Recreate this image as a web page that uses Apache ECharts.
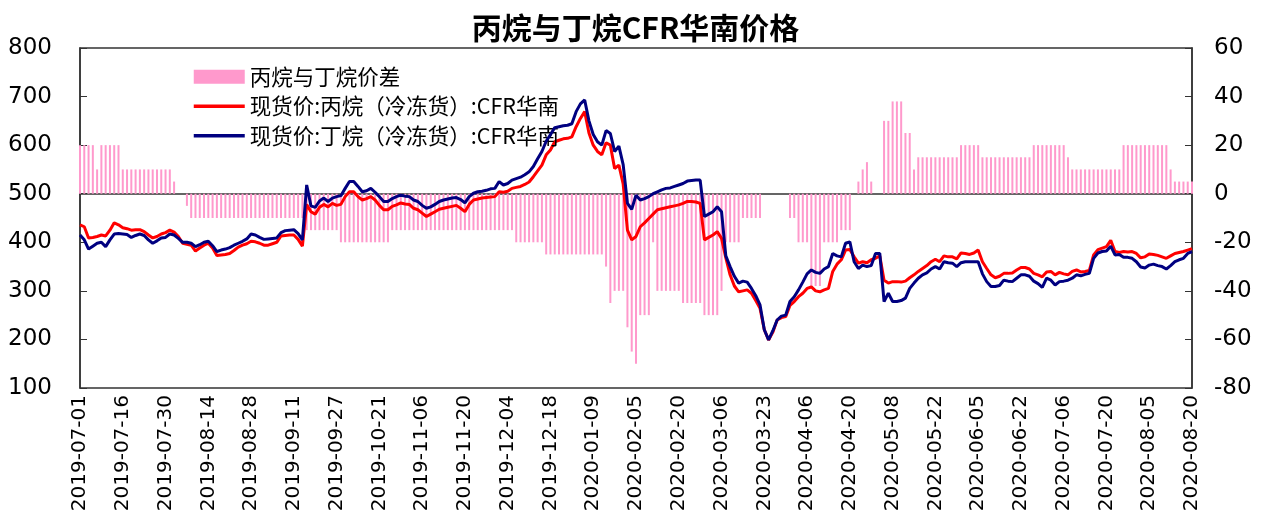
<!DOCTYPE html>
<html>
<head>
<meta charset="utf-8">
<script src="https://cdn.jsdelivr.net/npm/echarts@6/dist/echarts.min.js"></script>
<style>html,body{margin:0;padding:0;background:#fff;}#c{width:1271px;height:527px;}</style>
</head>
<body>
<div id="c"></div>
<script>
var tickLabels = ['2019-07-01','2019-07-16','2019-07-30','2019-08-14','2019-08-28','2019-09-11','2019-09-27','2019-10-21','2019-11-06','2019-11-20','2019-12-04','2019-12-18','2020-01-09','2020-02-05','2020-02-20','2020-03-06','2020-03-23','2020-04-06','2020-04-20','2020-05-08','2020-05-22','2020-06-05','2020-06-22','2020-07-06','2020-07-20','2020-08-05','2020-08-20'];

var propane = [
436,432,409,410,412,415,413,425,440,436,
430,428,425,426,426,422,415,409,412,417,
420,425,421,412,398,396,394,382,388,394,
398,388,373,374,375,377,383,390,394,397,
402,401,398,394,394,397,400,413,414,415,
415,406,392,478,463,458,472,478,473,480,
476,478,494,504,504,494,487,490,494,487,
476,467,467,474,477,481,479,478,470,467,
460,453,458,463,468,470,472,474,476,470,
463,478,487,489,491,492,493,494,504,503,
505,511,513,515,519,524,535,547,559,580,
590,607,610,613,614,617,638,655,669,625,
600,587,580,605,600,552,559,520,425,405,
412,432,440,449,458,467,469,471,473,475,
477,480,484,484,483,480,405,410,415,422,
408,368,333,310,298,300,302,295,280,264,
220,199,215,240,245,247,270,278,288,295,
305,308,300,298,302,305,340,355,364,384,
385,370,357,360,358,364,367,372,322,316,
319,319,318,320,327,333,340,346,352,360,
365,360,372,370,370,366,378,377,375,378,
384,360,346,333,327,330,336,336,337,343,
348,348,345,336,333,329,339,340,333,338,
335,333,340,343,339,340,342,374,385,388,
391,404,381,379,381,380,381,377,368,370,
376,375,373,370,367,372,377,379,381,384,
387];

var butane = [
415,405,386,392,398,400,391,405,417,418,
417,416,410,414,417,414,405,398,403,409,
410,417,415,408,400,400,398,391,395,400,
402,393,381,384,386,389,394,398,402,407,
417,415,410,406,407,408,409,420,424,425,
426,418,405,518,475,472,485,491,484,491,
494,496,511,525,525,515,504,506,511,503,
494,484,484,490,494,497,495,494,487,484,
476,470,473,478,484,487,489,491,492,488,
481,494,501,504,505,507,510,511,525,518,
521,528,531,534,539,545,556,572,587,608,
622,636,638,640,641,644,669,685,693,650,
622,607,600,630,624,587,598,560,480,468,
497,487,490,494,500,504,508,511,512,515,
518,521,526,527,528,528,453,458,463,473,
463,372,350,330,316,320,318,305,290,271,
220,199,218,240,248,250,278,288,302,318,
335,343,338,336,345,350,377,372,370,398,
401,360,346,353,350,352,377,377,278,295,
278,278,280,285,305,316,326,333,337,345,
350,345,360,358,357,350,358,360,360,360,
360,335,319,309,309,311,322,320,319,326,
333,333,330,320,315,307,326,322,312,319,
320,322,326,333,331,334,336,367,378,381,
382,392,374,375,369,369,367,360,349,347,
353,355,352,350,345,352,360,364,367,377,
381];

var spread = [
20,20,20,20,10,20,20,20,20,20,
10,10,10,10,10,10,10,10,10,10,
10,10,5,null,null,-5,-10,-10,-10,-10,
-10,-10,-10,-10,-10,-10,-10,-10,-10,-10,
-10,-10,-10,-10,-10,-10,-10,-10,-10,-10,
-10,-10,-10,-15,-15,-15,-15,-15,-15,-15,
-15,-20,-20,-20,-20,-20,-20,-20,-20,-20,
-20,-20,-20,-15,-15,-15,-15,-15,-15,-15,
-15,-15,-15,-15,-15,-15,-15,-15,-15,-15,
-15,-15,-15,-15,-15,-15,-15,-15,-15,-15,
-15,-15,-20,-20,-20,-20,-20,-20,-20,-25,
-25,-25,-25,-25,-25,-25,-25,-25,-25,-25,
-25,-25,-25,-30,-45,-40,-40,-40,-55,-65,
-70,-50,-50,-50,-20,-40,-40,-40,-40,-40,
-40,-45,-45,-45,-45,-45,-50,-50,-50,-50,
-40,-20,-20,-20,-20,-10,-10,-10,-10,-10,
null,null,null,null,null,null,-10,-10,-20,-20,
-20,-38,-38,-38,-20,-20,-20,-20,-15,-15,
-15,null,5,10,13,5,null,null,30,30,
38,38,38,25,25,10,15,15,15,15,
15,15,15,15,15,15,20,20,20,20,
20,15,15,15,15,15,15,15,15,15,
15,15,15,20,20,20,20,20,20,20,
20,15,10,10,10,10,10,10,10,10,
10,10,10,10,20,20,20,20,20,20,
20,20,20,20,20,10,5,5,5,5,
5];

var seriesNames = ['丙烷与丁烷价差','现货价:丙烷（冷冻货）:CFR华南','现货价:丁烷（冷冻货）:CFR华南'];

// category dates: each tick label followed by the next 9 weekdays
function pad(n){return (n<10?'0':'')+n;}
var categories = [];
for (var k = 0; k < tickLabels.length; k++) {
  categories.push(tickLabels[k]);
  if (k === tickLabels.length - 1) break;
  var p = tickLabels[k].split('-');
  var d = new Date(Date.UTC(+p[0], +p[1]-1, +p[2]));
  var cnt = 0;
  while (cnt < 9) {
    d.setUTCDate(d.getUTCDate()+1);
    var w = d.getUTCDay();
    if (w === 0 || w === 6) continue;
    categories.push(d.getUTCFullYear()+'-'+pad(d.getUTCMonth()+1)+'-'+pad(d.getUTCDate()));
    cnt++;
  }
}

var chart = echarts.init(document.getElementById('c'), null, {renderer:'canvas'});
var axisCol = '#333333';
var font = 'DejaVu Sans, sans-serif';
var cjk = 'Noto Sans CJK SC, sans-serif';
chart.setOption({
  animation: false,
  backgroundColor: '#ffffff',
  title: {
    text: '丙烷与丁烷CFR华南价格',
    left: 'center', top: 8,
    textStyle: {fontSize: 30, fontWeight: 'bold', color: '#000', fontFamily: cjk}
  },
  legend: {
    orient: 'vertical', left: 187, top: 61,
    itemWidth: 51, itemHeight: 14, itemGap: 8,
    textStyle: {fontSize: 21.5, color: '#000', fontFamily: cjk},
    data: [
      {name: seriesNames[0], icon: 'rect'},
      {name: seriesNames[1], itemStyle: {opacity: 0}, lineStyle: {width: 3.5}},
      {name: seriesNames[2], itemStyle: {opacity: 0}, lineStyle: {width: 3.5}}
    ]
  },
  grid: {left: 80, right: 79, top: 48, bottom: 139, show: true, borderColor: axisCol, borderWidth: 1.5, backgroundColor: 'transparent'},
  xAxis: {
    type: 'category', data: categories, boundaryGap: false,
    axisLine: {lineStyle: {color: axisCol, width: 1.5}},
    axisTick: {show: false},
    axisLabel: {interval: 9, rotate: 90, fontSize: 20, color: '#000', fontFamily: font, margin: 7}
  },
  yAxis: [
    {type: 'value', min: 100, max: 800, interval: 100, position: 'left',
     axisLine: {show: true, lineStyle: {color: axisCol, width: 1.5}},
     axisTick: {show: true, inside: true, length: 7, lineStyle: {color: axisCol}},
     splitLine: {show: false},
     axisLabel: {fontSize: 23, color: '#000', fontFamily: font, margin: 28}},
    {type: 'value', min: -80, max: 60, interval: 20, position: 'right',
     axisLine: {show: true, lineStyle: {color: axisCol, width: 1.5}},
     axisTick: {show: true, inside: true, length: 7, lineStyle: {color: axisCol}},
     splitLine: {show: false},
     axisLabel: {fontSize: 23, color: '#000', fontFamily: font, margin: 22}}
  ],
  series: [
    {name: seriesNames[0], type: 'bar', yAxisIndex: 1, data: spread, barWidth: 2,
     itemStyle: {color: '#FF99CC'}, z: 1},
    {name: seriesNames[1], type: 'line', yAxisIndex: 0, data: propane, symbol: 'none',
     lineStyle: {color: '#FF0000', width: 3}, itemStyle: {color: '#FF0000'}, z: 3},
    {name: seriesNames[2], type: 'line', yAxisIndex: 0, data: butane, symbol: 'none',
     lineStyle: {color: '#000080', width: 3}, itemStyle: {color: '#000080'}, z: 4}
  ]
});
</script>
</body>
</html>
